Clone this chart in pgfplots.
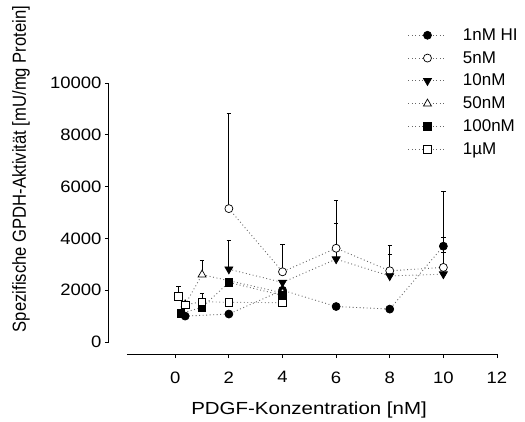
\documentclass[border=0pt]{standalone}
\usepackage{pgfplots}
\pgfplotsset{compat=1.18}
\usepackage{fontspec}
\setmainfont{Liberation Sans}
\newfontfamily\hfont{Liberation Sans}[FakeStretch=1.12]
\newfontfamily\xfont{Liberation Sans}[FakeStretch=1.17]
\newfontfamily\vfont{Liberation Sans}[FakeStretch=0.88]

\pgfplotsset{
  mylegend/.style={legend image code/.code={\draw[mark repeat=2,mark phase=2,##1] plot coordinates {(0pt,0pt) (19pt,0pt) (38pt,0pt)};}},
  ser/.style={line width=0.9pt, black!60, dash pattern=on 0.9pt off 2.6pt, mylegend,
    error bars/y dir=plus, error bars/y explicit,
    error bars/error mark=-,
    error bars/error bar style={line width=0.8pt, solid, black},
    error bars/error mark options={rotate=90, line width=0.8pt, solid, black, mark size=2.2pt}},
  full/.style={mark options={solid, draw=black, fill=black, line width=0.7pt}},
  open/.style={mark options={solid, draw=black, fill=white, line width=0.7pt}},
}

\begin{document}
\begin{tikzpicture}
\useasboundingbox (-127pt,-79pt) rectangle (398pt,342pt);
\begin{axis}[
  at={(0pt,0pt)}, anchor=south west,
  scale only axis, width=370pt, height=259pt,
  xmin=-1.8, xmax=12, ymin=0, ymax=10000,
  clip=false,
  axis x line*=bottom, axis y line*=left,
  axis x line shift=12pt, axis y line shift=18pt,
  axis line style={line width=1pt, -, black},
  xtick={0,2,...,12}, ytick={0,2000,...,10000},
  tick align=outside, major tick length=4pt,
  tick style={line width=1pt, black},
  scaled y ticks=false,
  /pgf/number format/1000 sep={},
  /pgf/number format/assume math mode=true,
  ticklabel style={font=\hfont\fontsize{16.5}{19}\selectfont},
  xticklabel style={yshift=-10pt},
  xlabel={PDGF-Konzentration [nM]},
  xlabel style={font=\xfont\fontsize{17.5}{20}\selectfont, at={(axis description cs:0.492,-0.278)}, anchor=base},
  ylabel={Spezifische GPDH-Aktivität [mU/mg Protein]},
  ylabel style={font=\vfont\fontsize{18.9}{22}\selectfont, at={(axis description cs:-0.273,0.668)}, anchor=base, rotate=0},
  legend cell align=left,
  legend style={draw=none, fill=none, inner sep=0pt, column sep=16pt,
    at={(axis description cs:0.759,1.214)}, anchor=north west,
    font=\fontsize{17}{20}\selectfont, row sep=7.8pt,
    nodes={inner ysep=0pt, inner xsep=0pt, text height=12.5pt, text depth=2.5pt}},
]
% 1nM HI
\addplot[ser, full, mark=*, mark size=4pt] coordinates {
  (0.37,1000) +- (0,0)
  (2,1080) +- (0,0)
  (4,2000) +- (0,0)
  (6,1370) +- (0,0)
  (8,1270) +- (0,0)
  (10,3700) +- (0,340)
};
% 5nM
\addplot[ser, open, mark=*, mark size=4pt] coordinates {
  (2,5150) +- (0,3660)
  (4,2710) +- (0,1060)
  (6,3620) +- (0,1860)
  (8,2750) +- (0,990)
  (10,2880) +- (0,2920)
};
% 10nM
\addplot[ser, full, mark=triangle*, mark size=4.6pt, every mark/.append style={rotate=180}] coordinates {
  (2,2810) +- (0,1130)
  (4,2300) +- (0,0)
  (6,3200) +- (0,1380)
  (8,2550) +- (0,850)
  (10,2620) +- (0,830)
};
% 50nM
\addplot[ser, open, mark=triangle*, mark size=4.6pt] coordinates {
  (0.37,1450) +- (0,0)
  (1,2600) +- (0,540)
  (4,1900) +- (0,0)
};
% 100nM
\addplot[ser, full, mark=square*, mark size=3.7pt] coordinates {
  (0.2,1100) +- (0,0)
  (1,1340) +- (0,0)
  (2,2300) +- (0,0)
  (4,1800) +- (0,0)
};
% 1uM
\addplot[ser, open, mark=square*, mark size=3.7pt] coordinates {
  (0.12,1770) +- (0,370)
  (0.37,1430) +- (0,0)
  (1,1560) +- (0,300)
  (2,1530) +- (0,0)
  (4,1520) +- (0,0)
};
\legend{1nM HI, 5nM, 10nM, 50nM, 100nM, 1µM}
\end{axis}
\end{tikzpicture}
\end{document}
